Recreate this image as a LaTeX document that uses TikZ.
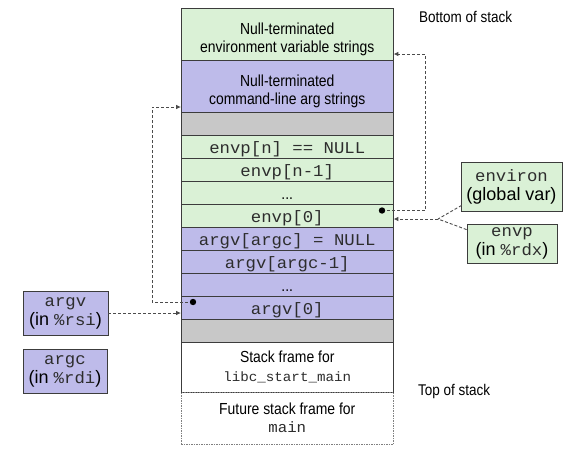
\documentclass[tikz,border=0pt]{standalone}
\usepackage{fontspec}
\setmainfont{Liberation Sans}
\setmonofont[FakeStretch=1.05]{Liberation Mono}
\newfontfamily\condsans[FakeStretch=0.87]{Liberation Sans}
\usetikzlibrary{calc,arrows.meta}

\definecolor{envgreen}{RGB}{218,241,214}
\definecolor{argpurple}{RGB}{190,187,234}
\definecolor{padgrey}{RGB}{200,200,200}
\definecolor{edge}{RGB}{60,60,60}
\definecolor{link}{RGB}{75,75,75}
\definecolor{codegrey}{RGB}{45,45,45}

\newcommand\codefont{\ttfamily\fontsize{16.5}{19}\selectfont\color{codegrey}}
% taller first line, so two-line cell text sits a little lower
\newcommand\toprule{\rule{0pt}{22pt}}

\begin{document}
\begin{tikzpicture}[x=1pt,y=-1pt,
  frame/.style={draw=edge, line width=0.8pt, minimum width=212.5pt, inner sep=0pt},
  cell/.style={frame, minimum height=23pt, text height=14.8pt, text depth=0pt,
    font=\codefont},
  dotcell/.style={cell, font=\condsans\fontsize{16}{18}\selectfont},
  bigcell/.style={frame, align=center,
    font=\condsans\fontsize{16}{18.4}\selectfont},
  sidebox/.style={draw=edge, line width=0.8pt, inner sep=0pt, align=center,
    font=\fontsize{18}{19}\selectfont},
  sidelabel/.style={inner sep=0pt, anchor=base west,
    font=\condsans\fontsize{15.5}{18}\selectfont},
  link/.style={draw=link, line width=0.9pt, dash pattern=on 3pt off 2pt},
  linkarrow/.style={link, -{Triangle[length=4.5pt,width=4pt]}},
  pin/.style={fill=black}
]
\useasboundingbox (0,0) rectangle (567,453);

% the stack, from its bottom (top of the page) to its top
\node[bigcell, fill=envgreen, minimum height=52pt] (envstr) at (287.25,34)
  {\toprule Null-terminated\\environment variable strings};
\node[bigcell, fill=argpurple, minimum height=52pt] (argstr) at (287.25,86)
  {\toprule Null-terminated\\command-line arg strings};
\node[frame, fill=padgrey, minimum height=23pt] (padtop) at (287.25,123.5) {};
\node[cell, fill=envgreen] (envpn) at (287.25,146.5) {envp[n] == NULL};
\node[cell, fill=envgreen] (envpnm) at (287.25,169.5) {envp[n-1]};
\node[dotcell, fill=envgreen] (envpdots) at (287.25,192.5) {...};
\node[cell, fill=envgreen] (envp0) at (287.25,215.5) {envp[0]};
\node[cell, fill=argpurple] (argvnull) at (287.25,238.5) {argv[argc] = NULL};
\node[cell, fill=argpurple] (argvlast) at (287.25,261.5) {argv[argc-1]};
\node[dotcell, fill=argpurple] (argvdots) at (287.25,284.5) {...};
\node[cell, fill=argpurple] (argv0) at (287.25,307.5) {argv[0]};
\node[frame, fill=padgrey, minimum height=23pt] (padbot) at (287.25,330.5) {};
\node[bigcell, fill=white, minimum height=50pt] (libc) at (287.25,367)
  {Stack frame for\\{\ttfamily\fontsize{13.5}{18.4}\selectfont\color{codegrey}libc\_start\_main}};
\node[bigcell, draw=gray, dashed, dash pattern=on 1.5pt off 1pt,
  minimum height=52pt] (future) at (287.25,418)
  {Future stack frame for\\{\ttfamily\fontsize{15}{18.4}\selectfont\color{codegrey}main}};

% labels beside the stack
\node[sidelabel] (bottomlbl) at (419,22.3) {Bottom of stack};
\node[sidelabel] (toplbl) at (418,395.7) {Top of stack};

% variables that point into the stack
\node[sidebox, fill=envgreen, minimum width=101pt, minimum height=49pt]
  (environ) at (511.5,186.5) {{\codefont environ}\\(global var)};
\node[sidebox, fill=envgreen, minimum width=90pt, minimum height=39pt]
  (envpreg) at (512,243.5) {{\codefont envp}\\(in {\codefont\%rdx})};
\node[sidebox, fill=argpurple, minimum width=85pt, minimum height=44pt]
  (argvreg) at (65.5,313) {{\codefont argv}\\(in {\codefont\%rsi})};
\node[sidebox, fill=argpurple, minimum width=84pt, minimum height=44pt]
  (argcreg) at (65,371) {{\codefont argc}\\(in {\codefont\%rdi})};

% pointer origins and bends
\coordinate (envdot) at (382,210.5);
\coordinate (envbend) at (425,54);
\coordinate (argvdot) at (193,302);
\coordinate (argbend) at (152,107);
\coordinate (merge) at (438,219);

% envp[0] points at the environment strings
\draw[linkarrow] (envdot) -| (envbend) -- (envbend -| envstr.east);
% argv[0] points at the argument strings
\draw[linkarrow] (argvdot) -| (argbend) -- (argbend -| argstr.west);
% argv register points at argv[0]
\draw[linkarrow] (argvreg.east) -- (argvreg.east -| argv0.west);
% environ and envp both point at envp[0]
\draw[link] ($(environ.south west)+(1,-6)$) -- (merge);
\draw[link] ($(envpreg.north west)+(0,6)$) -- (merge);
\draw[linkarrow] (merge) -- (merge -| envp0.east);

\fill[pin] (envdot) circle (3.2pt);
\fill[pin] (argvdot) circle (3.2pt);
\end{tikzpicture}
\end{document}
